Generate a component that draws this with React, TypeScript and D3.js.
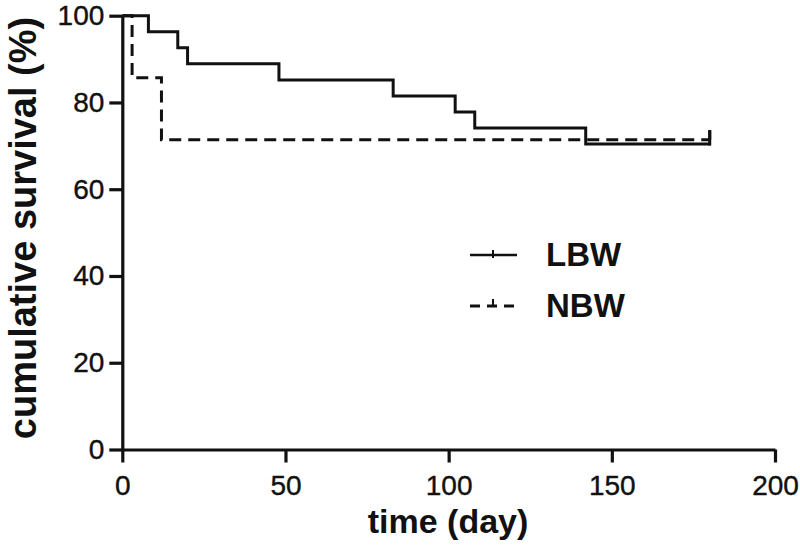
import React, { useEffect, useRef } from 'react';
import * as d3 from 'd3';

// Kaplan-Meier steps
const lbwDays = [0, 8, 17, 20, 48, 83, 102, 108, 142, 180];
const lbwSurvival = [100, 96.3, 92.6, 88.9, 85.2, 81.5, 77.8, 74.1, 70.4, 70.4];
const nbwDays = [0, 3, 12, 180];
const nbwSurvival = [100, 85.7, 71.4, 71.4];
const censorDay = 180;

const xTicks = [0, 50, 100, 150, 200];
const yTicks = [0, 20, 40, 60, 80, 100];
const seriesNames = ['LBW', 'NBW'];

const FONT = "'Liberation Sans', Arial, sans-serif";

export default function App() {
    const ref = useRef<SVGSVGElement>(null);

    useEffect(() => {
        const svg = d3.select(ref.current);
        svg.selectAll('*').remove();

        const x = d3.scaleLinear().domain([0, 200]).range([122.3, 775]);
        const y = d3.scaleLinear().domain([0, 100]).range([449.5, 15.7]);

        // x axis
        const xAxis = svg.append('g')
            .attr('transform', `translate(0, ${y(0)})`)
            .call(d3.axisBottom(x).tickValues(xTicks).tickSize(13).tickSizeOuter(0).tickPadding(12.5));
        xAxis.select('.domain').attr('stroke-width', 3.2).attr('stroke', '#111');
        xAxis.selectAll('.tick line').attr('stroke-width', 3.2).attr('stroke', '#111');
        xAxis.selectAll('.tick text')
            .attr('font-family', FONT).attr('font-size', 28).attr('fill', '#111')
            .attr('stroke', '#111').attr('stroke-width', 0.4);

        // y axis
        const yAxis = svg.append('g')
            .attr('transform', `translate(${x(0)}, 0)`)
            .call(d3.axisLeft(y).tickValues(yTicks).tickSize(13).tickSizeOuter(0).tickPadding(5));
        yAxis.select('.domain').attr('stroke-width', 3.2).attr('stroke', '#111');
        yAxis.selectAll('.tick line').attr('stroke-width', 3.2).attr('stroke', '#111');
        yAxis.selectAll('.tick text')
            .attr('font-family', FONT).attr('font-size', 28).attr('fill', '#111')
            .attr('stroke', '#111').attr('stroke-width', 0.4);

        const line = d3.line<[number, number]>()
            .x(d => x(d[0]))
            .y(d => y(d[1]))
            .curve(d3.curveStepAfter);

        const lbw = lbwDays.map((d, i) => [d, lbwSurvival[i]] as [number, number]);
        const nbw = nbwDays.map((d, i) => [d, nbwSurvival[i]] as [number, number]);

        svg.append('path')
            .attr('d', line(nbw))
            .attr('fill', 'none').attr('stroke', '#111').attr('stroke-width', 3)
            .attr('stroke-dasharray', '12,7');

        svg.append('path')
            .attr('d', line(lbw))
            .attr('fill', 'none').attr('stroke', '#111').attr('stroke-width', 3);

        // censor ticks at the end
        const tickTop = y(lbwSurvival[lbwSurvival.length - 1]) - 14;
        svg.append('line')
            .attr('x1', x(censorDay)).attr('x2', x(censorDay))
            .attr('y1', y(lbwSurvival[lbwSurvival.length - 1]) + 1.5).attr('y2', tickTop)
            .attr('stroke', '#111').attr('stroke-width', 3);
        svg.append('line')
            .attr('x1', x(censorDay)).attr('x2', x(censorDay))
            .attr('y1', y(nbwSurvival[nbwSurvival.length - 1])).attr('y2', tickTop)
            .attr('stroke', '#111').attr('stroke-width', 3);

        // legend
        const legend = svg.append('g');
        const legendY = [255, 306];
        seriesNames.forEach((name, i) => {
            const ly = legendY[i];
            if (i === 0) {
                legend.append('line')
                    .attr('x1', 470).attr('x2', 517).attr('y1', ly).attr('y2', ly)
                    .attr('stroke', '#111').attr('stroke-width', 2.5);
                legend.append('line')
                    .attr('x1', 493).attr('x2', 493).attr('y1', ly - 5).attr('y2', ly + 3)
                    .attr('stroke', '#111').attr('stroke-width', 2);
            } else {
                legend.append('line')
                    .attr('x1', 470).attr('x2', 519).attr('y1', ly).attr('y2', ly)
                    .attr('stroke', '#111').attr('stroke-width', 3)
                    .attr('stroke-dasharray', '10,7');
                legend.append('line')
                    .attr('x1', 493).attr('x2', 493).attr('y1', ly - 7).attr('y2', ly)
                    .attr('stroke', '#111').attr('stroke-width', 2);
            }
            legend.append('text')
                .attr('x', 546).attr('y', ly + 11)
                .attr('font-family', FONT).attr('font-weight', 'bold').attr('font-size', 33)
                .attr('fill', '#111')
                .text(name);
        });

        // axis titles
        svg.append('text')
            .attr('x', 448).attr('y', 533)
            .attr('text-anchor', 'middle')
            .attr('font-family', FONT).attr('font-weight', 'bold').attr('font-size', 34)
            .attr('fill', '#111')
            .text('time (day)');

        svg.append('text')
            .attr('transform', 'translate(36, 228) rotate(-90)')
            .attr('text-anchor', 'middle')
            .attr('font-family', FONT).attr('font-weight', 'bold').attr('font-size', 38)
            .attr('fill', '#111')
            .text('cumulative survival (%)');
    }, []);

    return (
        <svg ref={ref} width={800} height={551}
            style={{ position: 'absolute', left: 0, top: 0, background: '#fff' }} />
    );
}
